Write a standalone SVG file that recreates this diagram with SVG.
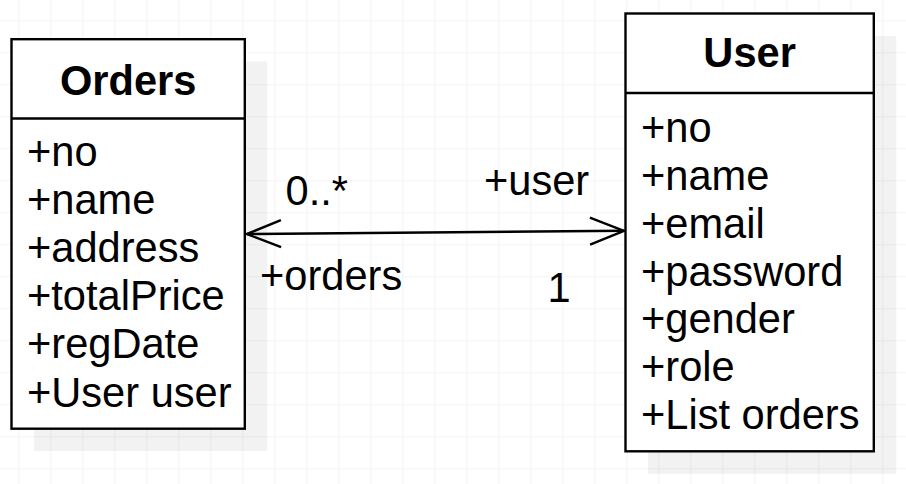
<svg xmlns="http://www.w3.org/2000/svg" width="906" height="484" viewBox="0 0 906 484">
  <defs>
    <pattern id="grid" x="18.3" y="20.3" width="32" height="32" patternUnits="userSpaceOnUse">
      <path d="M0 0 H32 M0 0 V32" fill="none" stroke="#ebebeb" stroke-width="1.2"/>
    </pattern>
    <marker id="open" viewBox="0 0 36 30" refX="35" refY="15" markerWidth="36" markerHeight="30" markerUnits="userSpaceOnUse" orient="auto-start-reverse">
      <path d="M1 1.5 L35 15 L1 28.5" fill="none" stroke="#000" stroke-width="2.4"/>
    </marker>
  </defs>
  <style>
    .box { fill: #ffffff; stroke: #000000; stroke-width: 2.4; }
    .shadow { fill: #000000; fill-opacity: 0.05; }
    .sep { stroke: #000000; stroke-width: 2.4; }
    .title { font-family: "Liberation Sans", Arial, sans-serif; font-size: 41.6px; font-weight: bold; fill: #000; text-anchor: middle; }
    .attr { font-family: "Liberation Sans", Arial, sans-serif; font-size: 41.6px; fill: #000; }
    .lbl { font-family: "Liberation Sans", Arial, sans-serif; font-size: 41.6px; fill: #000; }
    .edge { fill: none; stroke: #000; stroke-width: 2.4; }
  </style>
  <rect width="906" height="484" fill="#ffffff"/>
  <rect width="906" height="484" fill="url(#grid)"/>

  <g id="orders">
    <rect class="shadow" x="34" y="61.5" width="233.3" height="389.5"/>
    <rect class="box" x="11.5" y="39.2" width="233.3" height="389.5"/>
    <line class="sep" x1="11.5" y1="118.5" x2="244.8" y2="118.5"/>
    <text class="title" x="128.2" y="95">Orders</text>
    <text class="attr" x="27" y="166">+no</text>
    <text class="attr" x="27" y="214">+name</text>
    <text class="attr" x="27" y="262">+address</text>
    <text class="attr" x="27" y="310">+totalPrice</text>
    <text class="attr" x="27" y="358">+regDate</text>
    <text class="attr" x="27" y="406.5">+User user</text>
  </g>

  <g id="user">
    <rect class="shadow" x="648" y="36" width="248.3" height="437.8"/>
    <rect class="box" x="625.5" y="13.5" width="248.3" height="437.8"/>
    <line class="sep" x1="625.5" y1="93" x2="873.8" y2="93"/>
    <text class="title" x="749.6" y="66.7">User</text>
    <text class="attr" x="641" y="142">+no</text>
    <text class="attr" x="641" y="189.5">+name</text>
    <text class="attr" x="641" y="237.5">+email</text>
    <text class="attr" x="641" y="285.5">+password</text>
    <text class="attr" x="641" y="333.3">+gender</text>
    <text class="attr" x="641" y="381">+role</text>
    <text class="attr" x="641" y="429">+List orders</text>
  </g>

  <g id="connectors">
    <path class="edge" d="M247 234 L624 230.8" marker-start="url(#open)" marker-end="url(#open)"/>
    <text class="lbl" x="285.5" y="205">0..*</text>
    <text class="lbl" x="484" y="195">+user</text>
    <text class="lbl" x="260" y="290">+orders</text>
    <text class="lbl" x="547.5" y="302">1</text>
  </g>
</svg>
